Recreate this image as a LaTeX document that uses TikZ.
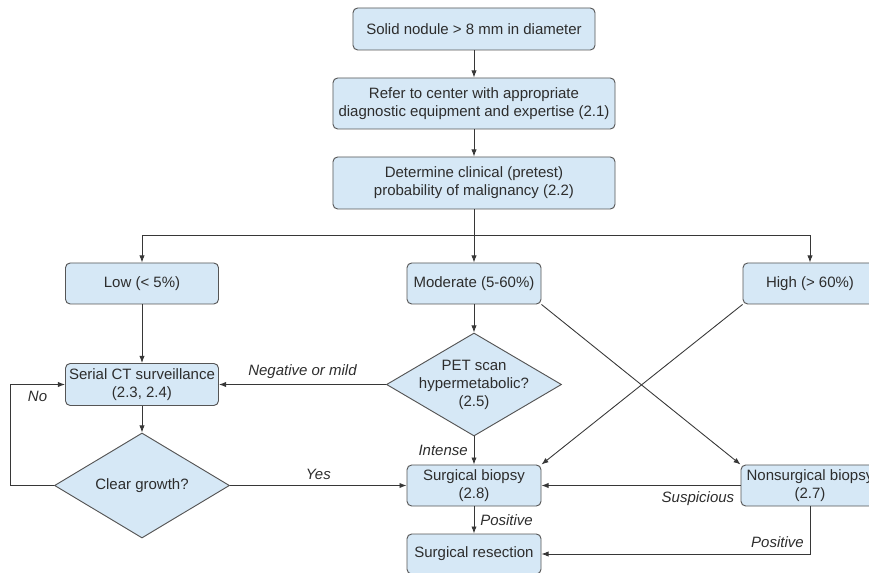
\documentclass[tikz,border=0pt]{standalone}
\usepackage{fontspec}
\setmainfont{Liberation Sans}
\usepackage{xcolor}
\usepackage{tikz}
\usetikzlibrary{arrows.meta,positioning,shapes.geometric}

\definecolor{boxblue}{RGB}{214,232,246}
\definecolor{edgegray}{RGB}{85,85,85}
\definecolor{linegray}{RGB}{55,55,55}
\definecolor{txtgray}{RGB}{45,45,45}

\begin{document}
\begin{tikzpicture}[x=0.03cm,y=-0.03cm,>={Latex[length=6pt,width=4.5pt]},
  every node/.style={text=txtgray,font=\fontsize{12.8}{15.3}\selectfont},
  box/.style={draw=edgegray,fill=boxblue,line width=0.8pt,rounded corners=4pt,align=center,inner sep=2pt},
  decision/.style={draw=edgegray,fill=boxblue,line width=0.8pt,diamond,aspect=1.7,inner sep=0pt,align=center},
  flow/.style={->,draw=linegray,line width=0.75pt},
  tag/.style={font=\fontsize{12.8}{15.3}\selectfont\itshape,inner sep=5pt}]
  \clip (0,0) rectangle (869,573);

  % top column
  \node[box,minimum width=7.26cm,minimum height=1.26cm] (start) at (474,29) {Solid nodule > 8 mm in diameter};
  \node[box,minimum width=8.46cm,minimum height=1.53cm] (refer) at (474,103.5) {Refer to center with appropriate\\diagnostic equipment and expertise (2.1)};
  \node[box,minimum width=8.46cm,minimum height=1.56cm] (clinical) at (474,183) {Determine clinical (pretest)\\probability of malignancy (2.2)};
  \coordinate (split) at (474,235);

  % probability classes
  \node[box,minimum width=4.59cm,minimum height=1.23cm] (low) at (142,283.5) {Low (< 5\%)};
  \node[box,minimum width=4.02cm,minimum height=1.23cm] (moderate) at (474,283.5) {Moderate (5-60\%)};
  \node[box,minimum width=4.02cm,minimum height=1.23cm] (high) at (810,283.5) {High (> 60\%)};

  % work-up
  \node[box,minimum width=4.59cm,minimum height=1.26cm] (serial) at (142,384.5) {Serial CT surveillance\\(2.3, 2.4)};
  \node[decision,minimum width=5.25cm,minimum height=3.15cm] (growth) at (142,485.5) {Clear growth?};
  \node[decision,minimum width=5.25cm,minimum height=3.09cm,
        label={[align=center]center:PET scan\\hypermetabolic?\\(2.5)}] (pet) at (474,384.5) {};
  \node[box,minimum width=4.02cm,minimum height=1.23cm] (sbiopsy) at (474,485.5) {Surgical biopsy\\(2.8)};
  \node[box,minimum width=4.14cm,minimum height=1.23cm] (nsbiopsy) at (810,485.5) {Nonsurgical biopsy\\(2.7)};
  \node[box,minimum width=4.02cm,minimum height=1.2cm] (resection) at (474,554) {Surgical resection};

  \draw[flow] (start) -- (refer);
  \draw[flow] (refer) -- (clinical);
  \draw[flow,-] (clinical) -- (split);
  \draw[flow] (split) -| (low);
  \draw[flow] (split) -- (moderate);
  \draw[flow] (split) -| (high);
  \draw[flow] (low) -- (serial);
  \draw[flow] (serial) -- (growth);
  \draw[flow] (moderate) -- (pet);
  \draw[flow] (pet) -- node[tag,above]{Negative or mild} (serial);
  \draw[flow] (pet) -- node[tag,left]{Intense} (sbiopsy);
  \draw[flow] (growth) -- node[tag,above]{Yes} (sbiopsy);
  \draw[flow] (growth.west) -- ++(-44,0) |- node[tag,pos=0.75,below]{No} (serial.west);
  \draw[flow] (moderate.south east) -- (nsbiopsy.north west);
  \draw[flow] (high.south west) -- (sbiopsy.north east);
  \draw[flow] (nsbiopsy) -- node[tag,pos=0,below left]{Suspicious} (sbiopsy);
  \draw[flow] (sbiopsy) -- node[tag,right]{Positive} (resection);
  \draw[flow] (nsbiopsy) |- node[tag,pos=0.5,above left]{Positive} (resection);
\end{tikzpicture}
\end{document}
